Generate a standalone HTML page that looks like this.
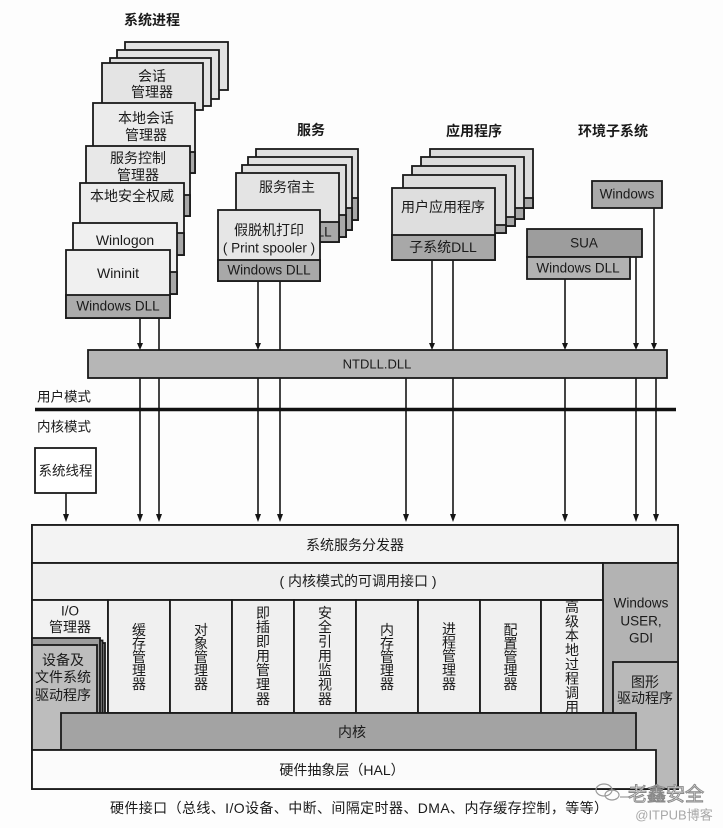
<!DOCTYPE html>
<html><head><meta charset="utf-8"><style>
html,body{margin:0;padding:0;background:#fff;}
svg{display:block;}
text{font-family:"Liberation Sans","Noto Sans CJK SC",sans-serif;fill:#1a1a1a;}
</style></head><body>
<svg width="723" height="828" viewBox="0 0 723 828" xmlns="http://www.w3.org/2000/svg">
<rect x="0" y="0" width="723" height="828" fill="#fdfdfd"/>
<g stroke="#1a1a1a" stroke-width="1.8">
<!-- titles -->
</g>
<g font-size="14" font-weight="bold" text-anchor="middle" dominant-baseline="central">
<text x="152" y="20">系统进程</text>
<text x="311" y="130">服务</text>
<text x="474" y="131">应用程序</text>
<text x="613" y="131">环境子系统</text>
</g>

<!-- connector lines (drawn under boxes) -->
<g stroke="#151515" stroke-width="1.6" fill="none">
<line x1="140" y1="318" x2="140" y2="344"/>
<line x1="159" y1="318" x2="159" y2="516"/>
<line x1="258" y1="281" x2="258" y2="344"/>
<line x1="280" y1="281" x2="280" y2="516"/>
<line x1="432" y1="260" x2="432" y2="344"/>
<line x1="453" y1="260" x2="453" y2="516"/>
<line x1="565" y1="279" x2="565" y2="344"/>
<line x1="636" y1="257" x2="636" y2="344"/>
<line x1="654" y1="208" x2="654" y2="344"/>
<line x1="140" y1="378" x2="140" y2="516"/>
<line x1="258" y1="378" x2="258" y2="516"/>
<line x1="406" y1="378" x2="406" y2="516"/>
<line x1="565" y1="378" x2="565" y2="516"/>
<line x1="636" y1="378" x2="636" y2="516"/>
<line x1="656" y1="378" x2="656" y2="516"/>
<line x1="66" y1="493" x2="66" y2="516"/>
</g>
<g fill="#151515">
<polygon points="137,343 143,343 140,350"/>
<polygon points="255,343 261,343 258,350"/>
<polygon points="429,343 435,343 432,350"/>
<polygon points="562,343 568,343 565,350"/>
<polygon points="633,343 639,343 636,350"/>
<polygon points="651,343 657,343 654,350"/>
<polygon points="137,514 143,514 140,522"/>
<polygon points="156,514 162,514 159,522"/>
<polygon points="255,514 261,514 258,522"/>
<polygon points="277,514 283,514 280,522"/>
<polygon points="403,514 409,514 406,522"/>
<polygon points="450,514 456,514 453,522"/>
<polygon points="562,514 568,514 565,522"/>
<polygon points="633,514 639,514 636,522"/>
<polygon points="653,514 659,514 656,522"/>
<polygon points="63,514 69,514 66,522"/>
</g>

<!-- system processes stack -->
<g stroke="#1a1a1a" stroke-width="1.8">
<rect x="125" y="42" width="103" height="48" fill="#e2e2e2"/>
<rect x="117" y="50" width="102" height="49" fill="#e2e2e2"/>
<rect x="110" y="58" width="101" height="48" fill="#e2e2e2"/>
<rect x="102" y="63" width="101" height="47" fill="#e4e4e4"/>
<rect x="93" y="103" width="102" height="70" fill="#ebebeb"/>
<rect x="93" y="152" width="102" height="21" fill="#a8a8a8"/>
<rect x="86" y="146" width="104" height="70" fill="#e8e8e8"/>
<rect x="86" y="195" width="104" height="21" fill="#a8a8a8"/>
<rect x="80" y="183" width="104" height="72" fill="#ececec"/>
<rect x="80" y="233" width="104" height="22" fill="#a8a8a8"/>
<rect x="73" y="223" width="104" height="71" fill="#f0f0f0"/>
<rect x="73" y="272" width="104" height="22" fill="#a8a8a8"/>
<rect x="66" y="250" width="104" height="68" fill="#f0f0f0"/>
<rect x="66" y="295" width="104" height="23" fill="#ababab"/>
</g>
<g font-size="14" text-anchor="middle" dominant-baseline="central">
<text x="152" y="76">会话</text>
<text x="152" y="92">管理器</text>
<text x="146" y="118">本地会话</text>
<text x="146" y="135">管理器</text>
<text x="138" y="158">服务控制</text>
<text x="138" y="175">管理器</text>
<text x="132" y="196">本地安全权威</text>
<text x="125" y="240" font-size="14">Winlogon</text>
<text x="118" y="273" font-size="14">Wininit</text>
<text x="118" y="306" font-size="13.5">Windows DLL</text>
</g>

<!-- services stack -->
<g stroke="#1a1a1a" stroke-width="1.8">
<rect x="256" y="149" width="102" height="71" fill="#e0e0e0"/>
<rect x="256" y="198" width="102" height="22" fill="#a8a8a8"/>
<rect x="248" y="157" width="104" height="73" fill="#e0e0e0"/>
<rect x="248" y="208" width="104" height="22" fill="#a8a8a8"/>
<rect x="242" y="165" width="104" height="72" fill="#e0e0e0"/>
<rect x="242" y="215" width="104" height="22" fill="#a8a8a8"/>
<rect x="236" y="173" width="103" height="69" fill="#e4e4e4"/>
<rect x="236" y="222" width="103" height="20" fill="#a8a8a8"/>
</g>
<g font-size="13.5" text-anchor="middle" dominant-baseline="central">
<text x="287" y="187" font-size="14">服务宿主</text>
<text x="290" y="232">Windows DLL</text>
</g>
<g stroke="#1a1a1a" stroke-width="1.8">
<rect x="218" y="210" width="102" height="71" fill="#e6e6e6"/>
<rect x="218" y="260" width="102" height="21" fill="#a8a8a8"/>
</g>
<g font-size="14" text-anchor="middle" dominant-baseline="central">
<text x="269" y="230">假脱机打印</text>
<text x="269" y="248" font-size="13.5">( Print spooler )</text>
<text x="269" y="270" font-size="13.5">Windows DLL</text>
</g>

<!-- applications stack -->
<g stroke="#1a1a1a" stroke-width="1.8">
<rect x="430" y="149" width="103" height="59" fill="#dcdcdc"/>
<rect x="430" y="198" width="103" height="10" fill="#a8a8a8"/>
<rect x="421" y="157" width="103" height="62" fill="#dcdcdc"/>
<rect x="421" y="208" width="103" height="11" fill="#a8a8a8"/>
<rect x="412" y="166" width="103" height="60" fill="#dcdcdc"/>
<rect x="412" y="217" width="103" height="9" fill="#a8a8a8"/>
<rect x="403" y="175" width="103" height="58" fill="#dcdcdc"/>
<rect x="403" y="225" width="103" height="8" fill="#a8a8a8"/>
<rect x="392" y="188" width="103" height="72" fill="#dedede"/>
<rect x="392" y="235" width="103" height="25" fill="#a8a8a8"/>
</g>
<g font-size="14" text-anchor="middle" dominant-baseline="central">
<text x="443" y="207">用户应用程序</text>
<text x="443" y="247">子系统DLL</text>
</g>

<!-- environment subsystems -->
<g stroke="#1a1a1a" stroke-width="1.8">
<rect x="592" y="181" width="70" height="27" fill="#a9a9a9"/>
<rect x="527" y="229" width="115" height="28" fill="#9d9d9d"/>
<rect x="527" y="257" width="103" height="22" fill="#b2b2b2"/>
</g>
<g font-size="13.5" text-anchor="middle" dominant-baseline="central">
<text x="627" y="194">Windows</text>
<text x="584" y="243">SUA</text>
<text x="578" y="268">Windows DLL</text>
</g>

<!-- NTDLL -->
<rect x="88" y="350" width="579" height="28" fill="#b6b6b6" stroke="#1a1a1a" stroke-width="1.8"/>
<text x="377" y="364" font-size="13" text-anchor="middle" dominant-baseline="central">NTDLL.DLL</text>

<!-- mode labels -->
<text x="37" y="397" font-size="13.5" dominant-baseline="central">用户模式</text>
<line x1="35" y1="409.5" x2="676" y2="409.5" stroke="#111" stroke-width="3.5"/>
<text x="37" y="427" font-size="13.5" dominant-baseline="central">内核模式</text>
<rect x="35" y="448" width="61" height="45" fill="#fff" stroke="#1a1a1a" stroke-width="1.8"/>
<text x="65.5" y="471" font-size="13.5" text-anchor="middle" dominant-baseline="central">系统线程</text>

<!-- kernel area -->
<g stroke="#1a1a1a" stroke-width="1.8">
<rect x="32" y="525" width="646" height="264" fill="#f2f2f2"/>
<rect x="32" y="525" width="646" height="38" fill="#f3f3f3"/>
<rect x="32" y="563" width="571" height="37" fill="#efefef"/>
<rect x="603" y="563" width="75" height="226" fill="#b3b3b3"/>
<rect x="613" y="662" width="65" height="127" fill="#b9b9b9"/>
<rect x="32" y="600" width="76" height="113" fill="#f2f2f2"/>
<rect x="108" y="600" width="62" height="113" fill="#f0f0f0"/>
<rect x="170" y="600" width="62" height="113" fill="#f0f0f0"/>
<rect x="232" y="600" width="62" height="113" fill="#f0f0f0"/>
<rect x="294" y="600" width="62" height="113" fill="#f0f0f0"/>
<rect x="356" y="600" width="62" height="113" fill="#f0f0f0"/>
<rect x="418" y="600" width="62" height="113" fill="#f0f0f0"/>
<rect x="480" y="600" width="61" height="113" fill="#f0f0f0"/>
<rect x="541" y="600" width="62" height="113" fill="#f0f0f0"/>
<rect x="32" y="643" width="73" height="107" fill="#9c9c9c"/>
<rect x="32" y="640.5" width="70.5" height="109.5" fill="#a8a8a8"/>
<rect x="32" y="638" width="68" height="112" fill="#9c9c9c"/>
<rect x="32" y="645" width="65" height="105" fill="#bdbdbd"/>
<rect x="61" y="713" width="575" height="37" fill="#a3a3a3"/>
<rect x="32" y="750" width="624" height="39" fill="#fbfbfb"/>
</g>
<g font-size="14" text-anchor="middle" dominant-baseline="central">
<text x="355" y="545">系统服务分发器</text>
<text x="358" y="581">( 内核模式的可调用接口 )</text>
<text x="70" y="611" font-size="13.5">I/O</text>
<text x="70" y="627">管理器</text>
<text x="63" y="660">设备及</text>
<text x="63" y="677">文件系统</text>
<text x="63" y="695">驱动程序</text>
<text x="641" y="603" font-size="13.5">Windows</text>
<text x="641" y="621" font-size="13.5">USER,</text>
<text x="641" y="638" font-size="13.5">GDI</text>
<text x="645" y="682">图形</text>
<text x="645" y="698">驱动程序</text>
<text x="352" y="732">内核</text>
<text x="342" y="770">硬件抽象层（HAL）</text>
</g>
<g font-size="14" text-anchor="middle" dominant-baseline="central">
<text x="139" y="630">缓</text><text x="139" y="643.5">存</text><text x="139" y="657">管</text><text x="139" y="670.5">理</text><text x="139" y="684">器</text>
<text x="201" y="630">对</text><text x="201" y="643.5">象</text><text x="201" y="657">管</text><text x="201" y="670.5">理</text><text x="201" y="684">器</text>
<text x="263" y="613">即</text><text x="263" y="627">插</text><text x="263" y="641.5">即</text><text x="263" y="656">用</text><text x="263" y="670">管</text><text x="263" y="684.5">理</text><text x="263" y="699">器</text>
<text x="325" y="613">安</text><text x="325" y="627">全</text><text x="325" y="641.5">引</text><text x="325" y="656">用</text><text x="325" y="670">监</text><text x="325" y="684.5">视</text><text x="325" y="699">器</text>
<text x="387" y="630">内</text><text x="387" y="643.5">存</text><text x="387" y="657">管</text><text x="387" y="670.5">理</text><text x="387" y="684">器</text>
<text x="449" y="629">进</text><text x="449" y="642.5">程</text><text x="449" y="656">管</text><text x="449" y="670">理</text><text x="449" y="684">器</text>
<text x="510.5" y="630">配</text><text x="510.5" y="643.5">置</text><text x="510.5" y="657">管</text><text x="510.5" y="670.5">理</text><text x="510.5" y="684">器</text>
<text x="572" y="607">高</text><text x="572" y="621.3">级</text><text x="572" y="635.6">本</text><text x="572" y="650">地</text><text x="572" y="664.3">过</text><text x="572" y="678.6">程</text><text x="572" y="693">调</text><text x="572" y="707">用</text>
</g>
<!-- re-draw top border of manager row to clip overflowing glyph -->
<line x1="541" y1="600" x2="603" y2="600" stroke="#1a1a1a" stroke-width="1.8"/>

<!-- bottom caption -->
<text x="110" y="808" font-size="14" dominant-baseline="central" textLength="498">硬件接口（总线、I/O设备、中断、间隔定时器、DMA、内存缓存控制，等等）</text>

<!-- watermark -->
<g fill="none" stroke="#9a9a9a" stroke-width="1.2">
<ellipse cx="604" cy="790" rx="8" ry="6"/>
<ellipse cx="612" cy="795" rx="7" ry="5"/>
<line x1="620" y1="797" x2="632" y2="797"/>
</g>
<text x="666" y="795" font-size="19" text-anchor="middle" dominant-baseline="central" style="fill:#fafafa;stroke:#8a8a8a;stroke-width:1">老鑫安全</text>
<text x="674" y="815" font-size="13" text-anchor="middle" dominant-baseline="central" style="fill:#a8a8a8">@ITPUB博客</text>
</svg>
</body></html>
